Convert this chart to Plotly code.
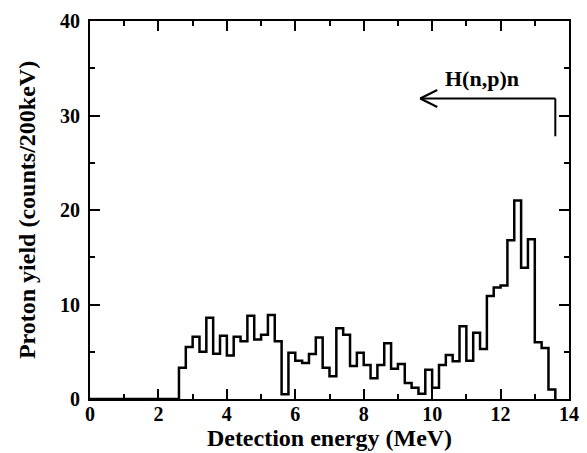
import numpy as np
import plotly.graph_objects as go

# Histogram data: 200 keV bins, first non-empty bin starts at 2.6 MeV
bin_width = 0.2
first_bin = 2.6
counts = [3.3, 5.5, 6.6, 5.0, 8.6, 4.8, 6.7, 4.6, 6.6, 6.1,
          8.8, 6.3, 6.8, 8.9, 6.1, 0.5, 4.9, 4.05, 3.8, 4.75,
          6.5, 3.3, 2.4, 7.5, 6.8, 3.5, 4.9, 3.6, 2.2, 3.6,
          5.9, 3.2, 3.7, 1.7, 1.2, 0.55, 3.1, 1.2, 3.6, 4.65,
          4.0, 7.7, 4.05, 7.0, 5.3, 10.9, 11.8, 12.0, 16.8, 21.0,
          13.9, 16.9, 6.0, 5.4, 1.0]

x_ticks = [0, 2, 4, 6, 8, 10, 12, 14]
y_ticks = [0, 10, 20, 30, 40]

# annotation geometry (data units)
arrow_y = 31.8
arrow_tip = 9.65
arrow_start = 13.6
arrow_drop = 27.8
label_x = 11.46
label_text = "H(n,p)n"

edges = np.round(first_bin + bin_width * np.arange(len(counts) + 1), 3)
xs = [0.0] + list(edges)
ys = [0.0] + list(counts) + [0.0]

font_family = "Liberation Serif"

fig = go.Figure()
fig.add_trace(go.Scatter(
    x=xs, y=ys, mode="lines", line=dict(shape="hv", color="black", width=2.5),
    showlegend=False, hoverinfo="skip", cliponaxis=False))

line_style = dict(color="black", width=2)
fig.add_shape(type="line", x0=arrow_start, x1=arrow_tip, y0=arrow_y, y1=arrow_y, line=line_style)
fig.add_shape(type="line", x0=arrow_start, x1=arrow_start, y0=arrow_y, y1=arrow_drop, line=line_style)
fig.add_shape(type="line", x0=arrow_tip, x1=arrow_tip + 0.5, y0=arrow_y, y1=arrow_y + 0.9, line=line_style)
fig.add_shape(type="line", x0=arrow_tip, x1=arrow_tip + 0.5, y0=arrow_y, y1=arrow_y - 0.9, line=line_style)

fig.add_annotation(x=label_x, y=arrow_y + 0.6, text="<b>" + label_text + "</b>", showarrow=False,
                   yanchor="bottom", font=dict(family=font_family, size=22, color="black"))

axis_common = dict(
    showline=True, linecolor="black", linewidth=2, mirror="ticks",
    ticks="inside", ticklen=10, tickwidth=2, tickcolor="black",
    showgrid=False, zeroline=False, automargin=False,
    tickfont=dict(family=font_family, size=20, color="black"),
)

fig.update_xaxes(range=[0, 14], tickvals=x_ticks, ticktext=["<b>%d</b>" % v for v in x_ticks],
                 minor=dict(dtick=1, ticks="inside", ticklen=5, tickwidth=2, tickcolor="black"),
                 title=dict(text="<b>Detection energy (MeV)</b>", font=dict(family=font_family, size=24, color="black"), standoff=0),
                 ticklabelstandoff=-4,
                 **axis_common)
fig.update_yaxes(range=[0, 40], tickvals=y_ticks, ticktext=["<b>%d</b>" % v for v in y_ticks],
                 minor=dict(dtick=5, ticks="inside", ticklen=5, tickwidth=2, tickcolor="black"),
                 title=dict(text="<b>Proton yield (counts/200keV)</b>", font=dict(family=font_family, size=24, color="black"), standoff=18),
                 ticklabelstandoff=4,
                 **axis_common)

fig.update_layout(
    width=587, height=453,
    margin=dict(l=82, r=26, t=13, b=62),
    plot_bgcolor="white", paper_bgcolor="white",
)

fig.write_html("out.html")
